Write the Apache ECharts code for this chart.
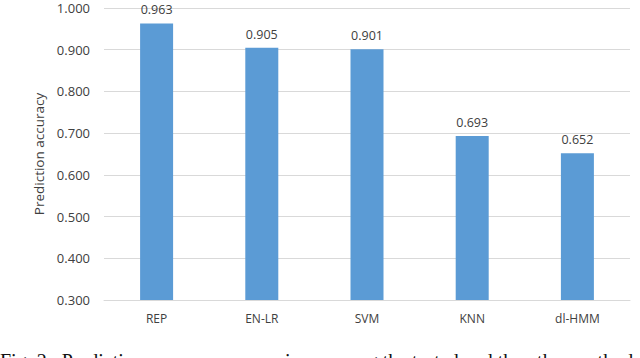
<!DOCTYPE html>
<html>
<head>
<meta charset="utf-8">
<script src="https://cdn.jsdelivr.net/npm/echarts@6/dist/echarts.min.js"></script>
<style>
  html, body { margin: 0; padding: 0; background: #fff; }
  #chart { width: 640px; height: 358px; }
</style>
</head>
<body>
<div id="chart"></div>
<script>
// method names and their prediction accuracy
var methods = ['REP', 'EN-LR', 'SVM', 'KNN', 'dl-HMM'];
var accuracy = [0.963, 0.905, 0.901, 0.693, 0.652];
var yMin = 0.3, yMax = 1.0, yStep = 0.1;

var blue = '#5B9BD5';
var ink = '#404040';
var font = '"Open Sans", "Noto Sans", sans-serif';

var chart = echarts.init(document.getElementById('chart'), null, { renderer: 'svg' });
chart.setOption({
  animation: false,
  grid: { left: 104, right: 10, top: 8, bottom: 58 },
  xAxis: {
    type: 'category',
    data: methods,
    axisLine: { lineStyle: { color: '#d9d9d9' } },
    axisTick: { show: false },
    axisLabel: { color: ink, fontSize: 12, fontFamily: font, margin: 12 }
  },
  yAxis: {
    type: 'value',
    min: yMin,
    max: yMax,
    interval: yStep,
    name: 'Prediction accuracy',
    nameLocation: 'middle',
    nameGap: 54,
    nameTextStyle: { color: ink, fontSize: 13.5, fontFamily: font },
    axisLine: { show: false },
    axisTick: { show: false },
    axisLabel: {
      color: ink, fontSize: 13, lineHeight: 14, fontFamily: font, margin: 14,
      formatter: function(v) { return v.toFixed(3); }
    },
    splitLine: { lineStyle: { color: '#d9d9d9', width: 1 } }
  },
  series: [{
    type: 'bar',
    data: accuracy,
    barWidth: 33,
    itemStyle: { color: blue },
    label: {
      show: true,
      position: 'top',
      distance: 7,
      color: ink,
      fontSize: 12.5,
      fontFamily: font,
      formatter: function(p) { return p.value.toFixed(3); }
    }
  }],
  graphic: [{
    // figure caption, clipped by the bottom edge as in the source image
    type: 'text',
    left: 0,
    top: 351,
    style: {
      text: 'Fig. 2   Prediction accuracy comparison among the tested and the other methods',
      fill: '#111',
      font: '20px "Liberation Serif", serif'
    }
  }]
});
window.addEventListener('resize', function() { chart.resize(); });
</script>
</body>
</html>
